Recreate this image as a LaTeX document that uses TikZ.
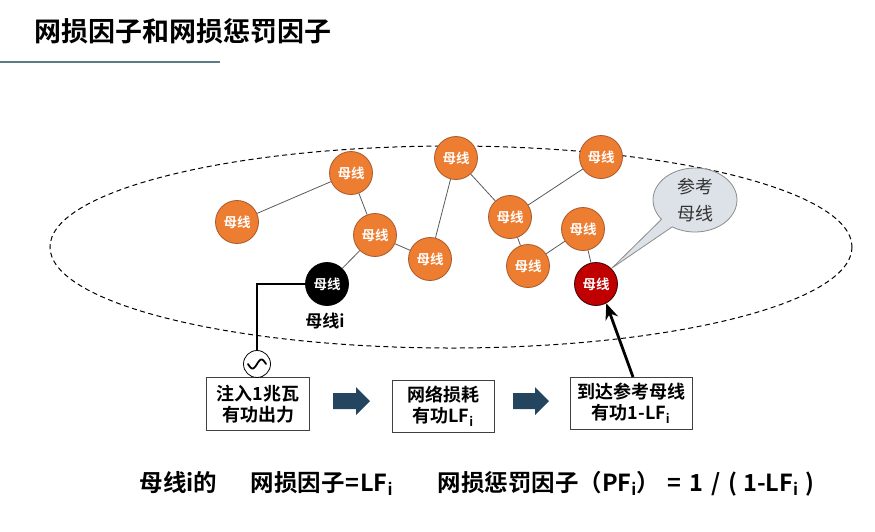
\documentclass[tikz,border=0pt]{standalone}
\usepackage{fontspec}
\setmainfont{Noto Sans CJK SC}[BoldFont={Noto Sans CJK SC Bold}]
\usetikzlibrary{shapes.callouts,arrows.meta}
\definecolor{busorange}{HTML}{ED7D31}
\definecolor{busedge}{HTML}{A9582A}
\definecolor{refred}{HTML}{C00000}
\definecolor{arrowblue}{HTML}{24455F}
\definecolor{titleline}{HTML}{5B7C87}
\definecolor{bubblefill}{HTML}{DCE2E7}
\begin{document}
\begin{tikzpicture}[x=1pt,y=-1pt,
  bus/.style={circle,draw=busedge,fill=busorange,line width=0.8pt,minimum size=43pt,inner sep=0pt,text=white,font=\bfseries\fontsize{13.5}{13.5}\selectfont},
  busblack/.style={bus,draw=black,fill=black},
  busred/.style={bus,draw=black!70!refred,fill=refred},
  link/.style={draw=black!65,line width=0.8pt},
  stepbox/.style={draw=black!75,line width=1pt,align=center,inner sep=0pt,font=\bfseries\fontsize{18}{21}\selectfont},
  blockarrow/.style={fill=arrowblue,draw=none},
  formula/.style={anchor=base west,font=\bfseries\fontsize{23.5}{23.5}\selectfont}
]
\useasboundingbox (0,0) rectangle (875,531);
% title
\node[anchor=west,font=\bfseries\fontsize{27}{27}\selectfont] (title) at (31,31) {网损因子和网损惩罚因子};
\draw[titleline,line width=1.5pt] (0,62) -- (220,62);
% ellipse
\draw[line width=1pt,dash pattern=on 5pt off 3.5pt] (451,247) ellipse [x radius=401, y radius=101];
% buses
\node[bus] (a) at (237,222) {母线};
\node[bus] (b) at (351,173) {母线};
\node[bus] (c) at (375,235) {母线};
\node[bus] (d) at (430,259) {母线};
\node[busblack] (bi) at (327,284) {母线};
\node[bus] (e) at (456,158) {母线};
\node[bus] (f) at (510,217) {母线};
\node[bus] (g) at (601,157) {母线};
\node[bus] (h) at (583,229) {母线};
\node[bus] (i) at (528,266) {母线};
\node[busred] (ref) at (596,284) {母线};
\node[font=\bfseries\fontsize{17}{17}\selectfont] (bilabel) at (325,321) {母线i};
% links
\draw[link] (a) -- (b);
\draw[link] (b) -- (c);
\draw[link] (c) -- (bi);
\draw[link] (c) -- (d);
\draw[link] (d) -- (e);
\draw[link] (e) -- (f);
\draw[link] (f) -- (g);
\draw[link] (f) -- (i);
\draw[link] (i) -- (h);
\draw[link] (h) -- (ref);
% bubble
\node[ellipse callout,draw=black!45,fill=bubblefill,line width=0.8pt,minimum width=84pt,minimum height=64pt,inner sep=0pt,align=center,text=black!80,font=\fontsize{18}{27}\selectfont,callout absolute pointer={(612,268)},callout pointer arc=20] (bubble) at (695,200) {参考\\母线};
% boxes
\node[stepbox,minimum width=103pt,minimum height=53pt] (box1) at (258,404) {注入1兆瓦\\有功出力};
\node[stepbox,minimum width=102pt,minimum height=52pt] (box2) at (443,406) {网络损耗\\有功LF\textsubscript{i}};
\node[stepbox,minimum width=122pt,minimum height=52pt] (box3) at (631,403) {到达参考母线\\有功1-LF\textsubscript{i}};
% generator
\node[circle,draw=black,line width=0.8pt,minimum size=27pt,inner sep=0pt,fill=white] (gen) at (257,364) {};
\draw[line width=1.8pt,line cap=round] plot[domain=-1:1,samples=40] ({257+9*\x},{364-4.5*sin(180*\x)});
\draw[line width=1.6pt] (bi.west) -| (gen.north);
% block arrows
\fill[blockarrow] (333,393) -- (356,393) -- (356,387) -- (370,401) -- (356,415) -- (356,409) -- (333,409) -- cycle;
\fill[blockarrow] (513,393) -- (535,393) -- (535,387) -- (549,401) -- (535,415) -- (535,409) -- (513,409) -- cycle;
% thick arrow
\coordinate (arrstart) at (633,377);
\draw[line width=2.8pt,-{Stealth[length=16pt,width=13pt]}] (arrstart) -- (ref.-62);
% bottom formula
\node[formula] (f1) at (136,491) {母线i的};
\node[formula] (f2) at (247,491) {网损因子\hspace{1pt}=\hspace{1pt}LF\textsubscript{i}};
\node[formula] (f3) at (434,491) {网损惩罚因子（PF\textsubscript{i}）\hspace{7pt}=\hspace{8pt}1\hspace{8pt}/\hspace{8pt}(\hspace{6pt}1-LF\textsubscript{i}\hspace{7pt})};
\end{tikzpicture}
\end{document}
